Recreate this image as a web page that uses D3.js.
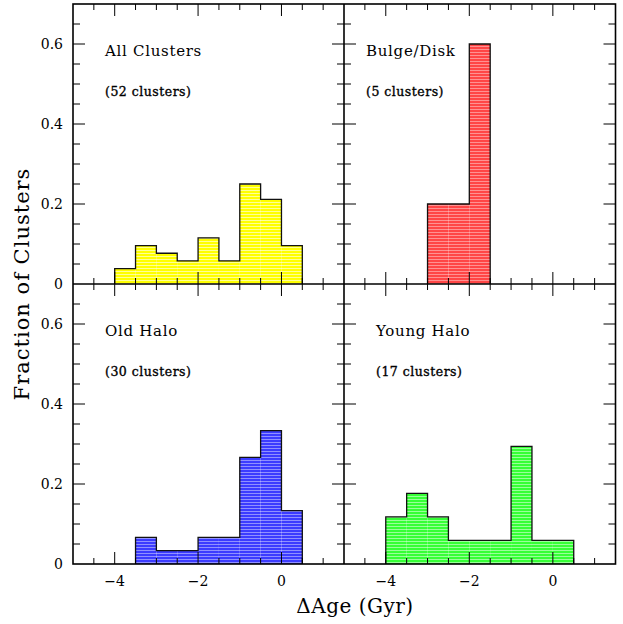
<!DOCTYPE html>
<html>
<head>
<meta charset="utf-8">
<script src="https://cdn.jsdelivr.net/npm/d3@7"></script>
<style>
  html, body { margin: 0; padding: 0; background: #fff; }
  svg { display: block; }
  text { font-family: "DejaVu Serif", "Liberation Serif", serif; fill: #000; }
</style>
</head>
<body>
<svg id="chart" width="623" height="624"></svg>
<script>
// Age-offset histograms of globular clusters, 0.5 Gyr bins
const binStarts = [-4, -3.5, -3, -2.5, -2, -1.5, -1, -0.5, 0];
const binWidth = 0.5;

const panelNames = ["All Clusters", "Bulge/Disk", "Old Halo", "Young Halo"];
const panelTotals = [52, 5, 30, 17];

// cluster counts per bin
const countsAll   = [2, 5, 4, 3, 6, 3, 13, 11, 5];
const countsBulge = [0, 0, 1, 1, 3, 0, 0, 0, 0];
const countsOld   = [0, 2, 1, 1, 2, 2, 8, 10, 4];
const countsYoung = [2, 3, 2, 1, 1, 1, 5, 1, 1];

const xTickLabels = [-4, -2, 0];
const yTickLabels = [0, 0.2, 0.4, 0.6];

const xDomain = [-5, 1.5];
const yDomain = [0, 0.7];

const svg = d3.select("#chart");

const L = 73, R = 615.5, T = 4, B = 564;
const midX = 344, midY = 284;

const panels = [
  { counts: countsAll,   col: 0, row: 0, base: "#ffff00", stripe: "#ffffa8", labelDx: 32 },
  { counts: countsBulge, col: 1, row: 0, base: "#ff4646", stripe: "#ff9a9a", labelDx: 22 },
  { counts: countsOld,   col: 0, row: 1, base: "#3c3cff", stripe: "#9a9aff", labelDx: 32 },
  { counts: countsYoung, col: 1, row: 1, base: "#36ff36", stripe: "#a6ffa6", labelDx: 32 }
];

const defs = svg.append("defs");
panels.forEach((p, i) => {
  const pat = defs.append("pattern")
    .attr("id", "hatch" + i)
    .attr("patternUnits", "userSpaceOnUse")
    .attr("width", 8).attr("height", 3);
  pat.append("rect").attr("width", 8).attr("height", 3).attr("fill", p.base);
  pat.append("rect").attr("y", 1).attr("width", 8).attr("height", 0.9).attr("fill", p.stripe);
});

const xScales = [
  d3.scaleLinear().domain(xDomain).range([L, midX]),
  d3.scaleLinear().domain(xDomain).range([midX, R])
];
const yScales = [
  d3.scaleLinear().domain(yDomain).range([midY, T]),
  d3.scaleLinear().domain(yDomain).range([B, midY])
];

panels.forEach((p, i) => {
  const x = xScales[p.col], y = yScales[p.row];
  const total = panelTotals[i];
  const bins = binStarts.map((s, k) => ({ x0: s, x1: s + binWidth, v: p.counts[k] / total }))
    .filter(b => b.v > 0);
  const g = svg.append("g");

  g.selectAll("rect.bar").data(bins).join("rect")
    .attr("class", "bar")
    .attr("x", d => x(d.x0))
    .attr("width", d => x(d.x1) - x(d.x0))
    .attr("y", d => y(d.v))
    .attr("height", d => y(0) - y(d.v))
    .attr("fill", `url(#hatch${i})`);

  // step outline of the histogram
  const pts = [[bins[0].x0, 0]];
  bins.forEach(b => { pts.push([b.x0, b.v]); pts.push([b.x1, b.v]); });
  pts.push([bins[bins.length - 1].x1, 0]);
  g.append("path")
    .attr("d", d3.line().x(d => x(d[0])).y(d => y(d[1]))(pts))
    .attr("fill", "none").attr("stroke", "#111").attr("stroke-width", 1.3)
    .attr("stroke-linejoin", "miter");

  // panel labels
  const x0 = x.range()[0];
  const yTop = y.range()[1];
  g.append("text").attr("x", x0 + p.labelDx).attr("y", yTop + 52)
    .attr("font-size", 15).attr("letter-spacing", 0.7).text(panelNames[i]);
  g.append("text").attr("x", x0 + p.labelDx).attr("y", yTop + 92)
    .attr("font-size", 12.5).attr("letter-spacing", 0.5)
    .attr("stroke", "#000").attr("stroke-width", 0.35)
    .text(`(${total} clusters)`);
});

// inward ticks on all four sides of every panel
const tickG = svg.append("g").attr("stroke", "#000").attr("stroke-width", 1);
const xMinor = d3.range(-4.5, 1.5, 0.5);
const yMinor = d3.range(0.05, 0.7, 0.05);
const isMajorX = v => Math.abs(v / 2 - Math.round(v / 2)) < 1e-6;
const isMajorY = v => Math.abs(v / 0.2 - Math.round(v / 0.2)) < 1e-6;

[0, 1].forEach(col => [0, 1].forEach(row => {
  const x = xScales[col], y = yScales[row];
  const [x0, x1] = x.range();
  const [y0, y1] = y.range(); // y0 bottom, y1 top
  xMinor.forEach(v => {
    const len = isMajorX(v) ? 12 : 6;
    tickG.append("line").attr("x1", x(v)).attr("x2", x(v)).attr("y1", y0).attr("y2", y0 - len);
    tickG.append("line").attr("x1", x(v)).attr("x2", x(v)).attr("y1", y1).attr("y2", y1 + len);
  });
  yMinor.forEach(v => {
    const len = isMajorY(v) ? 12 : 7;
    tickG.append("line").attr("y1", y(v)).attr("y2", y(v)).attr("x1", x0).attr("x2", x0 + len);
    tickG.append("line").attr("y1", y(v)).attr("y2", y(v)).attr("x1", x1).attr("x2", x1 - len);
  });
}));

// frame
const frame = svg.append("g").attr("stroke", "#000").attr("stroke-width", 1.6).attr("fill", "none");
frame.append("rect").attr("x", L).attr("y", T).attr("width", R - L).attr("height", B - T);
frame.append("line").attr("x1", midX).attr("x2", midX).attr("y1", T).attr("y2", B);
frame.append("line").attr("x1", L).attr("x2", R).attr("y1", midY).attr("y2", midY);

// tick labels
const fmtY = d => d === 0 ? "0" : d3.format(".1f")(d);
yScales.forEach(y => {
  svg.append("g").selectAll("text").data(yTickLabels).join("text")
    .attr("x", 63).attr("y", d => y(d)).attr("dy", "0.36em")
    .attr("text-anchor", "end").attr("font-size", 14).text(fmtY);
});
xScales.forEach(x => {
  svg.append("g").selectAll("text").data(xTickLabels).join("text")
    .attr("x", d => x(d)).attr("y", 586)
    .attr("text-anchor", "middle").attr("font-size", 14)
    .text(d => d < 0 ? "\u2212" + Math.abs(d) : String(d));
});

// axis titles
svg.append("text").attr("x", 355).attr("y", 613).attr("text-anchor", "middle")
  .attr("font-size", 20).attr("letter-spacing", 0.5).text("\u0394Age (Gyr)");
svg.append("text").attr("transform", "translate(29,284) rotate(-90)")
  .attr("text-anchor", "middle").attr("font-size", 21).attr("letter-spacing", 1)
  .text("Fraction of Clusters");
</script>
</body>
</html>
